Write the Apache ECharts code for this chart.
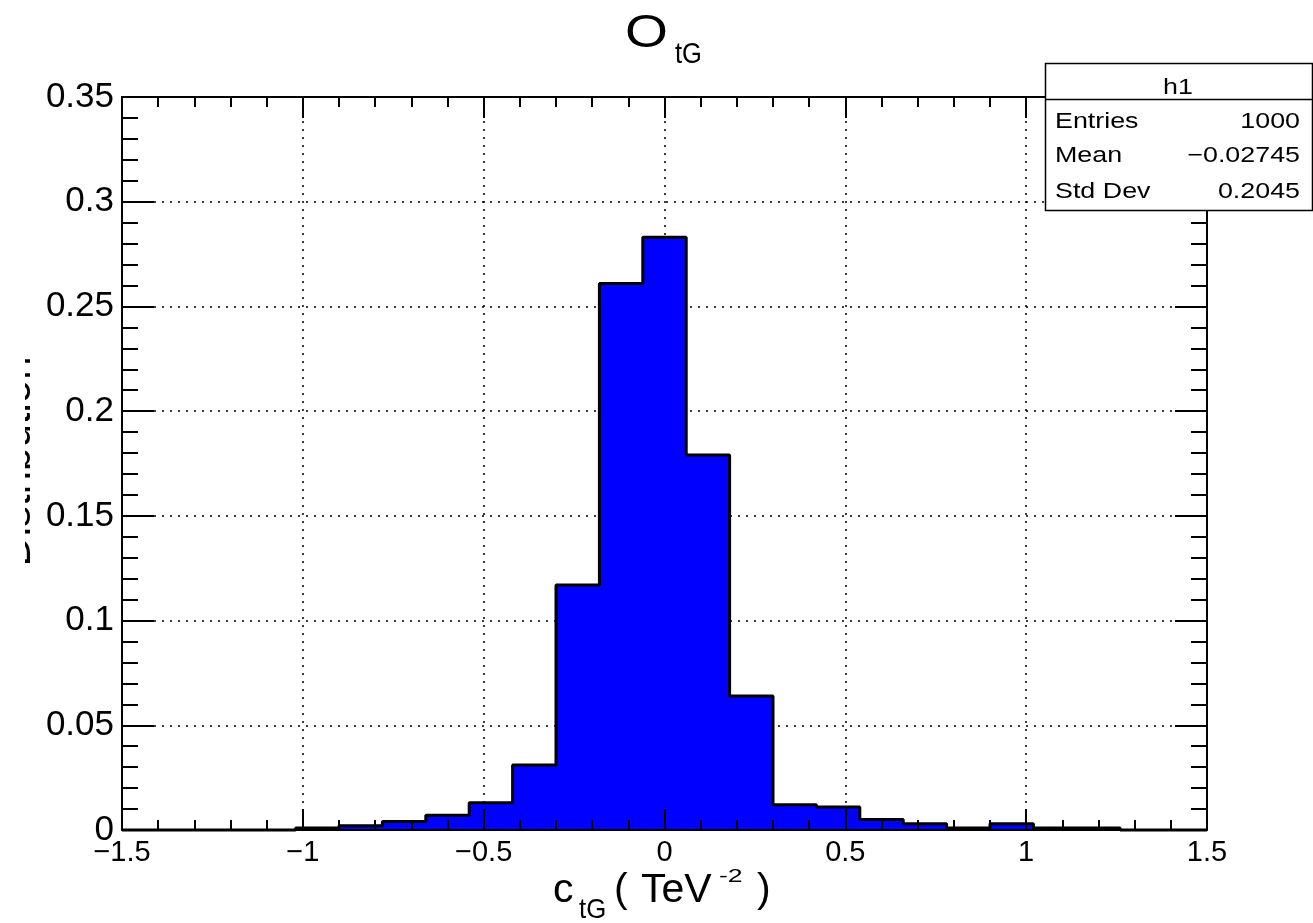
<!DOCTYPE html>
<html>
<head>
<meta charset="utf-8">
<script src="https://cdn.jsdelivr.net/npm/echarts@6/dist/echarts.min.js"></script>
<style>
html,body{margin:0;padding:0;background:#fff;}
#chart{width:1313px;height:923px;}
</style>
</head>
<body>
<div id="chart"></div>
<script>
// Histogram bin edges (25 bins from -1.5 to 1.5)
const binEdges = [-1.5,-1.38,-1.26,-1.14,-1.02,-0.9,-0.78,-0.66,-0.54,-0.42,-0.3,-0.18,-0.06,
                  0.06,0.18,0.3,0.42,0.54,0.66,0.78,0.9,1.02,1.14,1.26,1.38,1.5];
// Bin contents (normalised distribution)
const binValues = [0,0,0,0,0.001,0.002,0.004,0.007,0.013,0.031,0.117,0.261,0.283,
                   0.179,0.064,0.012,0.011,0.005,0.003,0.001,0.003,0.001,0.001,0,0];
// Axis tick values
const xTicks = [-1.5,-1,-0.5,0,0.5,1,1.5];
const yTicks = [0,0.05,0.1,0.15,0.2,0.25,0.3,0.35];
// Stats box
const statsTitle = 'h1';
const statsNames = ['Entries','Mean','Std Dev'];
const statsValues = ['1000','\u22120.02745','0.2045'];

const FONT = '"Liberation Sans", Arial, Helvetica, sans-serif';

const stepData = binEdges.map((e, i) => [e, i < binValues.length ? binValues[i] : binValues[binValues.length - 1]]);

function fmt(v){
  const s = String(parseFloat(Number(v).toFixed(3)));
  return s.replace('-', '\u2212');
}

const gridLeft = 122, gridTop = 97, gridW = 1085, gridH = 733;

const tickStyle = {color:'#000', width:2};
const dotted = {show:true, lineStyle:{color:'#000', width:1.5, type:[2,6]}};

const chart = echarts.init(document.getElementById('chart'), null, {renderer:'canvas'});

function txt(s, x, y, size, opts){
  opts = opts || {};
  return {type:'text', x:x, y:y, z:opts.z || 50, rotation:opts.rotation || 0,
          scaleX:opts.scaleX || 1,
          style:{text:s, font:size + 'px ' + FONT, fill:'#000', verticalAlign:'middle', align:opts.align || 'left'}};
}

const graphics = [];
// Title O_tG
graphics.push(txt('O', 625, 34, 46, {scaleX:1.2}));
graphics.push(txt('tG', 675, 54.6, 30, {scaleX:0.85}));
// X axis title c_tG ( TeV^-2 )
graphics.push(txt('c', 553, 890.8, 41));
graphics.push(txt('tG', 579, 910.3, 28, {scaleX:0.92}));
graphics.push(txt('(', 614, 890.8, 41));
graphics.push(txt('TeV', 641, 890.8, 41));
graphics.push(txt('-2', 719, 876.4, 19, {scaleX:1.4}));
graphics.push(txt(')', 757, 890.8, 41));
// Y axis title (clipped at left edge)
graphics.push(txt('Distribution', 18.5, 461.5, 42, {rotation:Math.PI/2, align:'center'}));
graphics.push({type:'rect', shape:{x:0, y:300, width:25, height:320}, z:60, style:{fill:'#fff', stroke:null}});
// Stats box
graphics.push({type:'rect', shape:{x:1045.5, y:63.5, width:267, height:147}, z:70, style:{fill:'#fff', stroke:'#000', lineWidth:1.5}});
graphics.push({type:'line', shape:{x1:1045.5, y1:99.5, x2:1313, y2:99.5}, z:71, style:{stroke:'#000', lineWidth:1.5}});
graphics.push(txt(statsTitle, 1178, 88.4, 22, {z:72, align:'center', scaleX:1.22}));
const rowY = [122.4, 155.6, 192.4];
statsNames.forEach((n, i) => {
  graphics.push(txt(n, 1055, rowY[i], 22, {z:72, scaleX:1.22}));
  graphics.push(txt(statsValues[i], 1300, rowY[i], 22, {z:72, align:'right', scaleX:1.22}));
});

const option = {
  animation:false,
  backgroundColor:'#fff',
  grid:{left:gridLeft, top:gridTop, width:gridW, height:gridH, containLabel:false},
  xAxis:[
    {type:'value', position:'bottom', min:xTicks[0], max:xTicks[xTicks.length-1], interval:0.5, z:5,
     axisLine:{show:true, onZero:false, lineStyle:{color:'#000', width:2}},
     axisTick:{show:true, inside:true, length:21, lineStyle:tickStyle},
     minorTick:{show:true, splitNumber:5, length:10, lineStyle:tickStyle},
     axisLabel:{show:true, fontSize:29, fontFamily:FONT, color:'#000', margin:8, formatter:fmt},
     splitLine:{show:false}},
    {type:'value', position:'top', min:xTicks[0], max:xTicks[xTicks.length-1], interval:0.5, z:0,
     axisLine:{show:true, onZero:false, lineStyle:{color:'#000', width:2}},
     axisTick:{show:true, inside:true, length:21, lineStyle:tickStyle},
     minorTick:{show:true, splitNumber:5, length:10, lineStyle:tickStyle},
     axisLabel:{show:false},
     splitLine:dotted}
  ],
  yAxis:[
    {type:'value', position:'left', min:yTicks[0], max:yTicks[yTicks.length-1], interval:0.05, z:5,
     axisLine:{show:true, onZero:false, lineStyle:{color:'#000', width:2}},
     axisTick:{show:true, inside:true, length:32, lineStyle:tickStyle},
     minorTick:{show:true, splitNumber:5, length:16, lineStyle:tickStyle},
     axisLabel:{show:true, fontSize:35, fontFamily:FONT, color:'#000', margin:8, formatter:fmt},
     splitLine:{show:false}},
    {type:'value', position:'right', min:yTicks[0], max:yTicks[yTicks.length-1], interval:0.05, z:0,
     axisLine:{show:true, onZero:false, lineStyle:{color:'#000', width:2}},
     axisTick:{show:true, inside:true, length:32, lineStyle:tickStyle},
     minorTick:{show:true, splitNumber:5, length:16, lineStyle:tickStyle},
     axisLabel:{show:false},
     splitLine:dotted}
  ],
  series:[{
    type:'line', xAxisIndex:0, yAxisIndex:0, step:'end', data:stepData,
    symbol:'none', showSymbol:false, clip:false, z:2,
    lineStyle:{color:'#000', width:3},
    areaStyle:{color:'#0000ff', opacity:1},
    emphasis:{disabled:true}
  }],
  graphic:graphics
};
chart.setOption(option);
</script>
</body>
</html>
